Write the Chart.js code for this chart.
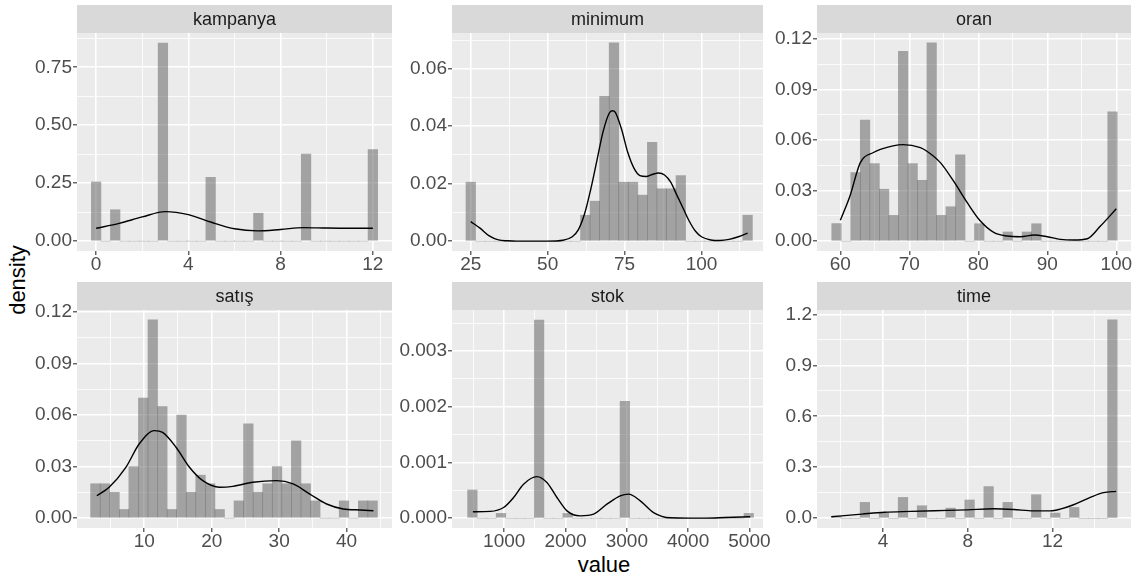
<!DOCTYPE html>
<html>
<head>
<meta charset="utf-8">
<script src="https://cdn.jsdelivr.net/npm/chart.js@4.4.0/dist/chart.umd.min.js"></script>
<style>
  body { margin: 0; background: #ffffff; }
  #wrap { position: relative; width: 1137px; height: 580px; overflow: hidden; font-family: "Liberation Sans", Arial, sans-serif; }
  #wrap canvas { position: absolute; }
  .title { position: absolute; font-size: 22px; color: #000000; white-space: nowrap; line-height: 1; }
</style>
</head>
<body>
<div id="wrap">
  <div class="title" style="left:18px;top:280px;transform:translate(-50%,-50%) rotate(-90deg);">density</div>
  <div class="title" style="left:604px;top:565px;transform:translate(-50%,-50%);">value</div>
</div>
<script>
// histogram heights (density), 30 bins each
var kampanyaBinStart = 0, kampanyaBinWidth = 0.4138;
var kampanyaHist = [0.255,0,0.135,0,0,0,0,0.855,0,0,0,0,0.275,0,0,0,0,0.12,0,0,0,0,0.375,0,0,0,0,0,0,0.395];
var kampanyaCurveX = [0,1,2,3,4,5,6,7,8,9,10,11,12];
var kampanyaCurveY = [0.055,0.076,0.104,0.127,0.114,0.081,0.053,0.044,0.05,0.058,0.056,0.055,0.055];

var minimumBinStart = 25, minimumBinWidth = 3.1034;
var minimumHist = [0.0205,0,0,0,0,0,0,0,0,0,0,0,0.009,0.0139,0.0504,0.069,0.0205,0.0205,0.016,0.0344,0.0182,0.0182,0.0228,0,0,0,0,0,0,0.009];
var minimumCurveX = [25,28,31,34,37,40,45,50,55,58,60,62,64,66,68,70,71,72,74,76,78,80,82,84,86,88,90,92,94,96,98,100,103,106,109,112,115];
var minimumCurveY = [0.0068,0.0045,0.0018,0.0004,0.0001,0,0,0,0.0003,0.0015,0.004,0.0095,0.018,0.028,0.038,0.0445,0.0454,0.0448,0.039,0.031,0.0255,0.0228,0.0225,0.0232,0.0237,0.023,0.0205,0.016,0.0115,0.007,0.0035,0.0015,0.0004,0.0002,0.0006,0.0015,0.0028];

var oranBinStart = 59.45, oranBinWidth = 1.3793;
var oranHist = [0.0104,0,0.0407,0.0718,0.046,0.0308,0.0153,0.1127,0.046,0.0361,0.1177,0.0153,0.0204,0.0512,0,0.0103,0,0,0.0054,0,0.0054,0.0103,0,0,0,0,0,0,0,0.0768];
var oranCurveX = [60,61.4,62.9,64.8,65.8,69.1,71.6,72.5,74.5,76.4,78.4,80.3,82.3,84.2,86.1,88.1,90,91.9,93.8,95.8,97.7,100];
var oranCurveY = [0.0123,0.0268,0.0466,0.0526,0.0545,0.0573,0.0555,0.0535,0.0466,0.0357,0.0228,0.0119,0.005,0.003,0.0026,0.0036,0.0026,0.001,0.0006,0.0014,0.0089,0.0192];

var satisBinStart = 2.75, satisBinWidth = 1.418;
var satisHist = [0.02,0.02,0.015,0.005,0.03,0.07,0.1155,0.065,0.005,0.06,0.015,0.025,0.02,0.005,0,0.01,0.055,0.015,0.02,0.03,0.02,0.045,0.02,0.01,0,0,0.01,0,0.01,0.01];
var satisCurveX = [2.96,4.79,7.27,9.26,11.49,12.72,14.71,16.7,18.68,21.16,23.14,26.12,29.6,32.07,34.55,37.04,39.5,42,43.98];
var satisCurveY = [0.013,0.018,0.0296,0.0433,0.051,0.05,0.0413,0.0296,0.0218,0.018,0.0185,0.0209,0.0218,0.0199,0.014,0.0082,0.0053,0.0047,0.0043];

var stokBinStart = 480, stokBinWidth = 155.5;
var stokHist = [0.000505,0,0,0.000084,0,0,0,0.00356,0,0,0.000084,0,0,0,0,0,0.0021,0,0,0,0,0,0,0,0,0,0,0,0,0.000084];
var stokCurveX = [489,772,989,1152,1315,1533,1696,1860,2023,2240,2457,2675,2892,3028,3219,3436,3708,4000,4300,4600,5013];
var stokCurveY = [0.000114,0.00012,0.00019,0.00037,0.00061,0.000745,0.00064,0.00037,0.00013,0.00004,0.00007,0.00025,0.0004,0.00043,0.00031,0.0001,0.000005,0,0,0.00001,0.000024];

var timeBinStart = 1.8, timeBinWidth = 0.449;
var timeHist = [0.01,0,0,0.093,0,0.03,0,0.122,0,0.073,0,0,0.059,0,0.107,0,0.186,0,0.093,0,0,0.138,0,0.03,0,0.063,0,0,0,1.168];
var timeCurveX = [1.56,3.0,4.07,5.33,6.43,7.96,9.22,10.16,11.1,11.89,12.36,12.99,13.78,14.4,15.0];
var timeCurveY = [0.008,0.024,0.035,0.04,0.044,0.049,0.055,0.051,0.043,0.043,0.053,0.079,0.122,0.15,0.158];

// axis breaks
var kampanyaXTicks = [0,4,8,12], kampanyaXLabels = ['0','4','8','12'], kampanyaXMinor = [2,6,10];
var kampanyaYTicks = [0,0.25,0.5,0.75], kampanyaYLabels = ['0.00','0.25','0.50','0.75'], kampanyaYMinor = [0.125,0.375,0.625,0.875];
var minimumXTicks = [25,50,75,100], minimumXLabels = ['25','50','75','100'], minimumXMinor = [37.5,62.5,87.5,112.5];
var minimumYTicks = [0,0.02,0.04,0.06], minimumYLabels = ['0.00','0.02','0.04','0.06'], minimumYMinor = [0.01,0.03,0.05,0.07];
var oranXTicks = [60,70,80,90,100], oranXLabels = ['60','70','80','90','100'], oranXMinor = [65,75,85,95];
var oranYTicks = [0,0.03,0.06,0.09,0.12], oranYLabels = ['0.00','0.03','0.06','0.09','0.12'], oranYMinor = [0.015,0.045,0.075,0.105];
var satisXTicks = [10,20,30,40], satisXLabels = ['10','20','30','40'], satisXMinor = [5,15,25,35,45];
var satisYTicks = [0,0.03,0.06,0.09,0.12], satisYLabels = ['0.00','0.03','0.06','0.09','0.12'], satisYMinor = [0.015,0.045,0.075,0.105];
var stokXTicks = [1000,2000,3000,4000,5000], stokXLabels = ['1000','2000','3000','4000','5000'], stokXMinor = [500,1500,2500,3500,4500];
var stokYTicks = [0,0.001,0.002,0.003], stokYLabels = ['0.000','0.001','0.002','0.003'], stokYMinor = [0.0005,0.0015,0.0025,0.0035];
var timeXTicks = [4,8,12], timeXLabels = ['4','8','12'], timeXMinor = [2,6,10,14];
var timeYTicks = [0,0.3,0.6,0.9,1.2], timeYLabels = ['0.0','0.3','0.6','0.9','1.2'], timeYMinor = [0.15,0.45,0.75,1.05];

var FONT = '"Liberation Sans", Arial, sans-serif';
var STRIP = 28, PLOT_H = 218, Y_W = 70, X_H = 32, PAD_R = 30;

var panelPlugin = {
  id: 'panelBg',
  beforeDraw: function(chart, args, opts) {
    var ctx = chart.ctx, a = chart.chartArea;
    ctx.save();
    ctx.fillStyle = '#EBEBEB';
    ctx.fillRect(a.left, a.top, a.right - a.left, a.bottom - a.top);
    ctx.fillStyle = '#D9D9D9';
    ctx.fillRect(a.left, a.top - STRIP, a.right - a.left, STRIP);
    ctx.fillStyle = '#1A1A1A';
    ctx.font = '18px ' + FONT;
    ctx.textAlign = 'center';
    ctx.textBaseline = 'middle';
    ctx.fillText(opts.title, (a.left + a.right) / 2, a.top - STRIP / 2 + 1);
    ctx.restore();
  }
};

function tickList(major, labels, minor) {
  var t = major.map(function(v, i) { return { value: v, lbl: labels[i], m: true }; });
  minor.forEach(function(v) { t.push({ value: v, lbl: '', m: false }); });
  t.sort(function(a, b) { return a.value - b.value; });
  return t;
}

function axis(min, max, ticks, isX) {
  return {
    type: 'linear',
    min: min,
    max: max,
    bounds: 'data',
    offset: false,
    afterBuildTicks: function(s) { s.ticks = ticks; },
    afterFit: function(s) { if (isX) { s.height = X_H; } else { s.width = Y_W; } },
    border: { display: false },
    grid: {
      offset: false,
      color: '#FFFFFF',
      lineWidth: function(c) { return c.tick && c.tick.m ? 1.6 : 0.8; },
      drawTicks: true,
      tickLength: 4,
      tickWidth: 1.1,
      tickColor: function(c) { return c.tick && c.tick.m ? '#333333' : 'rgba(0,0,0,0)'; }
    },
    ticks: {
      autoSkip: false,
      maxRotation: 0,
      minRotation: 0,
      padding: isX ? -2 : 1,
      color: '#4D4D4D',
      font: { family: FONT, size: 19 },
      callback: function(v, i, t) { return t[i].lbl; }
    }
  };
}

function makePanel(p) {
  var wrap = document.getElementById('wrap');
  var canvas = document.createElement('canvas');
  var w = Y_W + p.w + PAD_R, h = STRIP + PLOT_H + X_H;
  canvas.width = w;
  canvas.height = h;
  canvas.style.left = (p.left - Y_W) + 'px';
  canvas.style.top = p.top + 'px';
  canvas.style.width = w + 'px';
  canvas.style.height = h + 'px';
  wrap.appendChild(canvas);

  var bars = p.hist.map(function(v, i) { return { x: p.binStart + i * p.binWidth, y: v }; });
  var curve = p.curveX.map(function(x, i) { return { x: x, y: p.curveY[i] }; });

  new Chart(canvas.getContext('2d'), {
    type: 'bar',
    data: {
      datasets: [
        {
          type: 'line',
          data: curve,
          borderColor: '#000000',
          borderWidth: 1.4,
          pointRadius: 0,
          cubicInterpolationMode: 'monotone',
          fill: false,
          order: 1
        },
        {
          type: 'bar',
          data: bars,
          backgroundColor: 'rgba(89,89,89,0.5)',
          borderWidth: 0,
          barPercentage: 1,
          categoryPercentage: 1,
          order: 2
        }
      ]
    },
    options: {
      responsive: false,
      animation: false,
      devicePixelRatio: 1,
      layout: { padding: { top: STRIP, right: PAD_R, bottom: 0, left: 0 } },
      plugins: { legend: { display: false }, tooltip: { enabled: false }, panelBg: { title: p.title } },
      scales: {
        x: axis(p.xMin, p.xMax, tickList(p.xTicks, p.xLabels, p.xMinor), true),
        y: axis(p.yMin, p.yMax, tickList(p.yTicks, p.yLabels, p.yMinor), false)
      }
    },
    plugins: [panelPlugin]
  });
}

document.addEventListener('DOMContentLoaded', function() {
  makePanel({ title: 'kampanya', left: 77, top: 5, w: 315,
    hist: kampanyaHist, binStart: kampanyaBinStart, binWidth: kampanyaBinWidth,
    curveX: kampanyaCurveX, curveY: kampanyaCurveY, xMin: -0.83, xMax: 12.83, yMin: -0.043, yMax: 0.898,
    xTicks: kampanyaXTicks, xLabels: kampanyaXLabels, xMinor: kampanyaXMinor,
    yTicks: kampanyaYTicks, yLabels: kampanyaYLabels, yMinor: kampanyaYMinor });
  makePanel({ title: 'minimum', left: 452, top: 5, w: 311,
    hist: minimumHist, binStart: minimumBinStart, binWidth: minimumBinWidth,
    curveX: minimumCurveX, curveY: minimumCurveY, xMin: 18.9, xMax: 120, yMin: -0.00345, yMax: 0.07245,
    xTicks: minimumXTicks, xLabels: minimumXLabels, xMinor: minimumXMinor,
    yTicks: minimumYTicks, yLabels: minimumYLabels, yMinor: minimumYMinor });
  makePanel({ title: 'oran', left: 817, top: 5, w: 314,
    hist: oranHist, binStart: oranBinStart, binWidth: oranBinWidth,
    curveX: oranCurveX, curveY: oranCurveY, xMin: 56.62, xMax: 102.13, yMin: -0.0059, yMax: 0.1236,
    xTicks: oranXTicks, xLabels: oranXLabels, xMinor: oranXMinor,
    yTicks: oranYTicks, yLabels: oranYLabels, yMinor: oranYMinor });
  makePanel({ title: 'satış', left: 77, top: 282, w: 315,
    hist: satisHist, binStart: satisBinStart, binWidth: satisBinWidth,
    curveX: satisCurveX, curveY: satisCurveY, xMin: 0.02, xMax: 46.74, yMin: -0.0058, yMax: 0.1213,
    xTicks: satisXTicks, xLabels: satisXLabels, xMinor: satisXMinor,
    yTicks: satisYTicks, yLabels: satisYLabels, yMinor: satisYMinor });
  makePanel({ title: 'stok', left: 452, top: 282, w: 311,
    hist: stokHist, binStart: stokBinStart, binWidth: stokBinWidth,
    curveX: stokCurveX, curveY: stokCurveY, xMin: 147.5, xMax: 5221.7, yMin: -0.000178, yMax: 0.00374,
    xTicks: stokXTicks, xLabels: stokXLabels, xMinor: stokXMinor,
    yTicks: stokYTicks, yLabels: stokYLabels, yMinor: stokYMinor });
  makePanel({ title: 'time', left: 817, top: 282, w: 314,
    hist: timeHist, binStart: timeBinStart, binWidth: timeBinWidth,
    curveX: timeCurveX, curveY: timeCurveY, xMin: 0.887, xMax: 15.7, yMin: -0.058, yMax: 1.226,
    xTicks: timeXTicks, xLabels: timeXLabels, xMinor: timeXMinor,
    yTicks: timeYTicks, yLabels: timeYLabels, yMinor: timeYMinor });
});
</script>
</body>
</html>
